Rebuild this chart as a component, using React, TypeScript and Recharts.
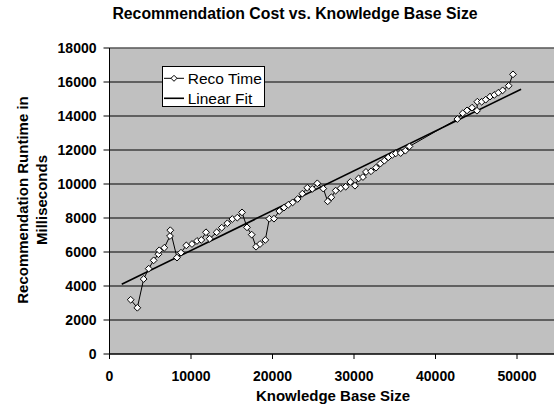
import React from 'react';
import { LineChart, Line, XAxis, YAxis, CartesianGrid, Legend, Label, ReferenceLine } from 'recharts';

const FONT = '"Liberation Sans", Arial, Helvetica, sans-serif';

const chartTitle = 'Recommendation Cost vs. Knowledge Base Size';
const xTitle = 'Knowledge Base Size';
const yTitleLines = ['Recommendation Runtime in', 'Milliseconds'];
const seriesNames = ['Reco Time', 'Linear Fit'];

const xTicks = [0, 10000, 20000, 30000, 40000, 50000];
const yTicks = [0, 2000, 4000, 6000, 8000, 10000, 12000, 14000, 16000, 18000];

const recoX = [
  2600, 3415, 4190, 4810, 5420, 6000, 6100, 6725, 7420, 7460,
  8280, 8770, 9425, 10120, 10736, 11265, 11840, 12290, 13150, 13770,
  14460, 15070, 15680, 16260, 16870, 17450, 17980, 18470, 19120, 19610,
  20180, 20830, 21410, 21940, 22480, 23090, 23660, 24270, 24880, 25500,
  26230, 26770, 27220, 27750, 28370, 28980, 29550, 30120, 30570, 31100,
  31470, 32090, 32700, 33230, 33720, 34210, 34700, 35120, 35730, 36300,
  36800, 42680, 43340, 43870, 44480, 45090, 45130, 45670, 46160, 46690,
  47220, 47710, 48240, 48980, 49510,
];
const recoY = [
  3190, 2720, 4410, 5020, 5510, 5870, 6100, 6250, 6940, 7280,
  5670, 5960, 6390, 6470, 6650, 6710, 7160, 6780, 7160, 7430,
  7690, 7940, 8020, 8330, 7450, 7020, 6310, 6470, 6710, 7960,
  7960, 8410, 8610, 8780, 8920, 9120, 9430, 9780, 9710, 10040,
  9730, 8980, 9220, 9610, 9750, 9840, 10120, 9900, 10330, 10410,
  10710, 10750, 10960, 11200, 11370, 11570, 11710, 11800, 11820, 11960,
  12210, 13820, 14160, 14330, 14490, 14310, 14840, 14840, 14960, 15140,
  15240, 15370, 15510, 15780, 16450,
];

const fitX = [1500, 50500];
const fitY = [4100, 15570];

const recoData = recoX.map((x, i) => ({ x, y: recoY[i] }));
const fitData = fitX.map((x, i) => ({ x, y: fitY[i] }));

const diamondPath = (cx: number, cy: number, r: number) =>
  `M${cx},${cy - r}L${cx + r},${cy}L${cx},${cy + r}L${cx - r},${cy}Z`;

const Diamond = (props: any) => {
  const { cx, cy, index } = props;
  if (cx == null || cy == null) return <g key={`d-${index}`} />;
  return (
    <path
      key={`d-${index}`}
      d={diamondPath(cx, cy, 3.4)}
      fill="#ffffff"
      stroke="#000000"
      strokeWidth={1}
    />
  );
};

const LegendBox = () => (
  <div
    style={{
      width: 101,
      height: 39,
      border: '1px solid #000',
      background: '#fff',
      position: 'relative',
    }}
  >
    <svg width={101} height={39} style={{ position: 'absolute', left: 0, top: 0, display: 'block' }}>
      <line x1={1} x2={21} y1={11.3} y2={11.3} stroke="#000" strokeWidth={1} />
      <path d={diamondPath(11, 11.3, 3)} fill="#fff" stroke="#000" strokeWidth={1} />
      <text x={24.7} y={11.3} dy="0.355em" fontFamily={FONT} fontSize={15.5} fill="#000">
        {seriesNames[0]}
      </text>
      <line x1={1} x2={21} y1={31.3} y2={31.3} stroke="#000" strokeWidth={1.6} />
      <text x={24.7} y={31.3} dy="0.355em" fontFamily={FONT} fontSize={15.5} fill="#000">
        {seriesNames[1]}
      </text>
    </svg>
  </div>
);

export default function App() {
  return (
    <div
      style={{
        position: 'absolute',
        left: 0,
        top: 0,
        width: 554,
        height: 404,
        overflow: 'hidden',
        background: '#fff',
        fontFamily: FONT,
      }}
    >
      <div
        style={{
          position: 'absolute',
          left: 0,
          top: 6,
          width: 590,
          textAlign: 'center',
          fontFamily: FONT,
          fontWeight: 'bold',
          fontSize: 15.8,
          lineHeight: '16px',
          color: '#000',
          zIndex: 2,
        }}
      >
        {chartTitle}
      </div>
      <LineChart
        width={620}
        height={404}
        margin={{ top: 48, right: 21.5, bottom: 20, left: 49.5 }}
        style={{ fontFamily: FONT }}
      >
        <CartesianGrid
          horizontal={true}
          vertical={false}
          fill="#C0C0C0"
          stroke="#000000"
          strokeDasharray=""
          fillOpacity={1}
        />
        <ReferenceLine y={18000} stroke="#808080" strokeWidth={1} ifOverflow="extendDomain" />
        <XAxis
          type="number"
          dataKey="x"
          domain={[0, 60000]}
          ticks={xTicks}
          allowDataOverflow={true}
          height={30}
          tickSize={5}
          tickMargin={12}
          axisLine={{ stroke: '#000' }}
          tickLine={{ stroke: '#000' }}
          tick={{ fill: '#000', fontSize: 14, fontWeight: 'bold', fontFamily: FONT }}
          interval={0}
        >
          <Label
            content={() => (
              <text
                x={333}
                y={400.7}
                textAnchor="middle"
                fontFamily={FONT}
                fontWeight="bold"
                fontSize={15}
                fill="#000"
              >
                {xTitle}
              </text>
            )}
          />
        </XAxis>
        <YAxis
          type="number"
          domain={[0, 18000]}
          ticks={yTicks}
          width={60}
          tickSize={6}
          tickMargin={7}
          axisLine={{ stroke: '#000' }}
          tickLine={{ stroke: '#000' }}
          tick={{ fill: '#000', fontSize: 14, fontWeight: 'bold', fontFamily: FONT }}
          interval={0}
        >
          <Label
            content={() => (
              <g>
                <text
                  x={22.7}
                  y={200}
                  dy="0.355em"
                  transform="rotate(-90 22.7 200)"
                  textAnchor="middle"
                  fontFamily={FONT}
                  fontWeight="bold"
                  fontSize={15}
                  fill="#000"
                >
                  {yTitleLines[0]}
                </text>
                <text
                  x={41.7}
                  y={200}
                  dy="0.355em"
                  transform="rotate(-90 41.7 200)"
                  textAnchor="middle"
                  fontFamily={FONT}
                  fontWeight="bold"
                  fontSize={15}
                  fill="#000"
                >
                  {yTitleLines[1]}
                </text>
              </g>
            )}
          />
        </YAxis>
        <Legend
          layout="horizontal"
          verticalAlign="middle"
          align="center"
          content={() => <LegendBox />}
          wrapperStyle={{ position: 'absolute', left: 162, top: 66, width: 'auto', height: 'auto', margin: 0 }}
        />
        <Line
          data={fitData}
          dataKey="y"
          name={seriesNames[1]}
          type="linear"
          stroke="#000"
          strokeWidth={1.6}
          dot={false}
          activeDot={false}
          isAnimationActive={false}
        />
        <Line
          data={recoData}
          dataKey="y"
          name={seriesNames[0]}
          type="linear"
          stroke="#000"
          strokeWidth={1}
          dot={Diamond}
          activeDot={false}
          isAnimationActive={false}
        />
      </LineChart>
    </div>
  );
}
